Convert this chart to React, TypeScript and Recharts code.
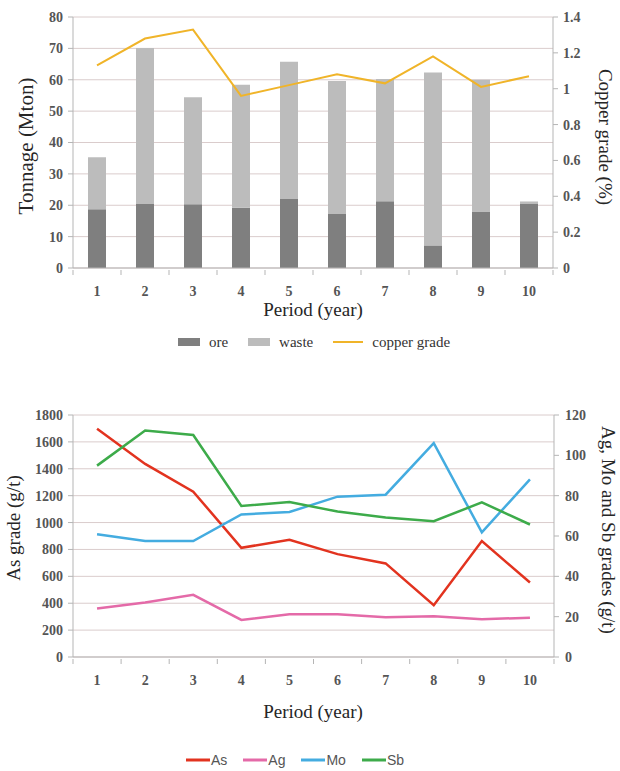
import {
  ComposedChart,
  Bar,
  Line,
  XAxis,
  YAxis,
  CartesianGrid,
  Legend,
} from "recharts";

// periods shared by both charts
const PERIODS = ["1", "2", "3", "4", "5", "6", "7", "8", "9", "10"];

// tonnage (Mton) and copper grade (%)
const ORE = [18.7, 20.4, 20.3, 19.2, 22.0, 17.2, 21.3, 7.2, 18.0, 20.4];
const WASTE = [16.6, 49.7, 34.1, 39.2, 43.7, 42.4, 38.9, 55.1, 42.0, 0.8];
const COPPER_GRADE = [1.13, 1.28, 1.33, 0.96, 1.02, 1.08, 1.03, 1.18, 1.01, 1.07];
const TONNAGE_TICKS = [0, 10, 20, 30, 40, 50, 60, 70, 80];
const COPPER_TICKS = [0, 0.2, 0.4, 0.6, 0.8, 1, 1.2, 1.4];

// by-product grades (g/t)
const AS_GRADE = [1697, 1436, 1230, 812, 872, 765, 696, 385, 862, 554];
const AG_GRADE = [24, 27, 30.8, 18.4, 21.2, 21.2, 19.7, 20.2, 18.7, 19.5];
const MO_GRADE = [60.9, 57.5, 57.5, 70.7, 71.9, 79.5, 80.5, 106, 61.8, 88.1];
const SB_GRADE = [94.9, 112.3, 110.1, 74.9, 76.9, 72.1, 69.2, 67.3, 76.7, 65.7];
const AS_TICKS = [0, 200, 400, 600, 800, 1000, 1200, 1400, 1600, 1800];
const MINOR_TICKS = [0, 20, 40, 60, 80, 100, 120];

const tonnageData = PERIODS.map((period, i) => ({
  period,
  ore: ORE[i],
  waste: WASTE[i],
  copper: COPPER_GRADE[i],
}));

const gradeData = PERIODS.map((period, i) => ({
  period,
  As: AS_GRADE[i],
  Ag: AG_GRADE[i],
  Mo: MO_GRADE[i],
  Sb: SB_GRADE[i],
}));

const GRADE_SERIES = [
  { key: "As", color: "#e2331f", axis: "as" },
  { key: "Ag", color: "#e46aa8", axis: "m" },
  { key: "Mo", color: "#44ace0", axis: "m" },
  { key: "Sb", color: "#3dab4a", axis: "m" },
];

const W = 620;
const LEFT_W = 73;
const GRID = "#dacccc";
const AXIS = "#b5b5b5";
const SERIF = "'Liberation Serif', 'Times New Roman', serif";
const SANS = "'Liberation Sans', Arial, sans-serif";

const tickStyle = {
  fill: "#555",
  fontSize: 14,
  fontFamily: SERIF,
  fontWeight: 700,
};

// category label plus the small marks between categories
const periodTick = (band: number, textOffset: number) => (props: any) => {
  const { x, y, payload } = props;
  const half = band / 2;
  return (
    <g>
      <line x1={x - half} x2={x - half} y1={y} y2={y + 5} stroke={AXIS} />
      {payload.index === PERIODS.length - 1 && (
        <line x1={x + half} x2={x + half} y1={y} y2={y + 5} stroke={AXIS} />
      )}
      <text x={x} y={y + textOffset} textAnchor="middle" {...tickStyle}>
        {payload.value}
      </text>
    </g>
  );
};

const title =
  (text: string, x: number, y: number, angle = 0, size = 19) =>
  () => (
    <text
      x={x}
      y={y}
      transform={angle ? `rotate(${angle}, ${x}, ${y})` : undefined}
      textAnchor="middle"
      dominantBaseline="central"
      fill="#262626"
      fontSize={size}
      fontFamily={SERIF}
    >
      {text}
    </text>
  );

// keep legend entries in series order
const inOrder = (payload: any[] | undefined, order: string[]) =>
  order
    .map((name) => (payload || []).find((p: any) => p.value === name))
    .filter(Boolean);

const TonnageLegend = ({ payload }: any) => (
  <div
    style={{
      height: 20,
      display: "flex",
      justifyContent: "center",
      alignItems: "center",
      fontFamily: SERIF,
      fontSize: 15,
      color: "#333",
      paddingLeft: 8,
    }}
  >
    {inOrder(payload, ["ore", "waste", "copper grade"]).map((e: any) => (
      <span
        key={e.value}
        style={{ display: "flex", alignItems: "center", margin: "0 10px" }}
      >
        {e.type === "line" ? (
          <svg width={30} height={8} style={{ marginRight: 9 }}>
            <line x1={0} x2={30} y1={4} y2={4} stroke={e.color} strokeWidth={2} />
          </svg>
        ) : (
          <svg width={22} height={8} style={{ marginRight: 9 }}>
            <rect x={0} y={0} width={22} height={8} fill={e.color} />
          </svg>
        )}
        {e.value}
      </span>
    ))}
  </div>
);

const GradeLegend = ({ payload }: any) => (
  <div
    style={{
      height: 20,
      display: "flex",
      justifyContent: "center",
      alignItems: "center",
      fontFamily: SANS,
      fontSize: 14,
      color: "#555",
      paddingRight: 30,
    }}
  >
    {inOrder(
      payload,
      GRADE_SERIES.map((s) => s.key)
    ).map((e: any) => (
      <span
        key={e.value}
        style={{ display: "flex", alignItems: "center", margin: "0 8px" }}
      >
        <svg width={24} height={8} style={{ marginRight: 1 }}>
          <line x1={0} x2={24} y1={4} y2={4} stroke={e.color} strokeWidth={3} />
        </svg>
        {e.value}
      </span>
    ))}
  </div>
);

function TonnageChart() {
  const right = 67;
  const band = (W - LEFT_W - right) / PERIODS.length;
  return (
    <ComposedChart
      width={W}
      height={360}
      data={tonnageData}
      margin={{ top: 17, right: 0, bottom: 8, left: 0 }}
    >
      <CartesianGrid yAxisId="t" vertical={false} stroke={GRID} />
      <XAxis
        dataKey="period"
        scale="band"
        interval={0}
        height={64}
        tickSize={0}
        tickLine={false}
        axisLine={{ stroke: AXIS }}
        tick={periodTick(band, 26)}
        label={title("Period (year)", 313, 309)}
      />
      <YAxis
        yAxisId="t"
        width={LEFT_W}
        domain={[0, 80]}
        ticks={TONNAGE_TICKS}
        interval={0}
        tickSize={5}
        tickMargin={5}
        tick={tickStyle}
        tickLine={{ stroke: AXIS }}
        axisLine={{ stroke: AXIS }}
        label={title("Tonnage (Mton)", 26, 146, -90, 21)}
      />
      <YAxis
        yAxisId="c"
        orientation="right"
        width={right}
        domain={[0, 1.4]}
        ticks={COPPER_TICKS}
        interval={0}
        tickSize={5}
        tickMargin={5}
        tick={tickStyle}
        tickLine={{ stroke: AXIS }}
        axisLine={{ stroke: AXIS }}
        label={title("Copper grade (%)", 605, 137, 90)}
      />
      <Legend verticalAlign="bottom" content={TonnageLegend} />
      <Bar
        yAxisId="t"
        dataKey="ore"
        name="ore"
        stackId="tonnage"
        fill="#7f7f7f"
        barSize={18}
        isAnimationActive={false}
      />
      <Bar
        yAxisId="t"
        dataKey="waste"
        name="waste"
        stackId="tonnage"
        fill="#bcbcbc"
        barSize={18}
        isAnimationActive={false}
      />
      <Line
        yAxisId="c"
        dataKey="copper"
        name="copper grade"
        type="linear"
        stroke="#f0b429"
        strokeWidth={2}
        dot={false}
        legendType="line"
        isAnimationActive={false}
      />
    </ComposedChart>
  );
}

function GradeChart() {
  const right = 66;
  const band = (W - LEFT_W - right) / PERIODS.length;
  return (
    <ComposedChart
      width={W}
      height={391}
      data={gradeData}
      margin={{ top: 35, right: 0, bottom: 1, left: 0 }}
    >
      <CartesianGrid yAxisId="as" vertical={false} stroke={GRID} />
      <XAxis
        dataKey="period"
        scale="band"
        interval={0}
        height={93}
        tickSize={0}
        tickLine={false}
        axisLine={{ stroke: AXIS }}
        tick={periodTick(band, 26)}
        label={title("Period (year)", 313, 331)}
      />
      <YAxis
        yAxisId="as"
        width={LEFT_W}
        domain={[0, 1800]}
        ticks={AS_TICKS}
        interval={0}
        tickSize={5}
        tickMargin={5}
        tick={tickStyle}
        tickLine={{ stroke: AXIS }}
        axisLine={{ stroke: AXIS }}
        label={title("As grade (g/t)", 13, 148, -90)}
      />
      <YAxis
        yAxisId="m"
        orientation="right"
        width={right}
        domain={[0, 120]}
        ticks={MINOR_TICKS}
        interval={0}
        tickSize={5}
        tickMargin={6}
        tick={tickStyle}
        tickLine={{ stroke: AXIS }}
        axisLine={{ stroke: AXIS }}
        label={title("Ag, Mo and Sb grades (g/t)", 608, 150, 90)}
      />
      <Legend verticalAlign="bottom" content={GradeLegend} />
      {GRADE_SERIES.map((s) => (
        <Line
          key={s.key}
          yAxisId={s.axis}
          dataKey={s.key}
          name={s.key}
          type="linear"
          stroke={s.color}
          strokeWidth={2.5}
          dot={false}
          isAnimationActive={false}
        />
      ))}
    </ComposedChart>
  );
}

export default function App() {
  return (
    <div
      style={{
        position: "absolute",
        left: 0,
        top: 0,
        width: W,
        height: 771,
        background: "#fff",
      }}
    >
      <div style={{ position: "absolute", left: 0, top: 0 }}>
        <TonnageChart />
      </div>
      <div style={{ position: "absolute", left: 0, top: 380 }}>
        <GradeChart />
      </div>
    </div>
  );
}
